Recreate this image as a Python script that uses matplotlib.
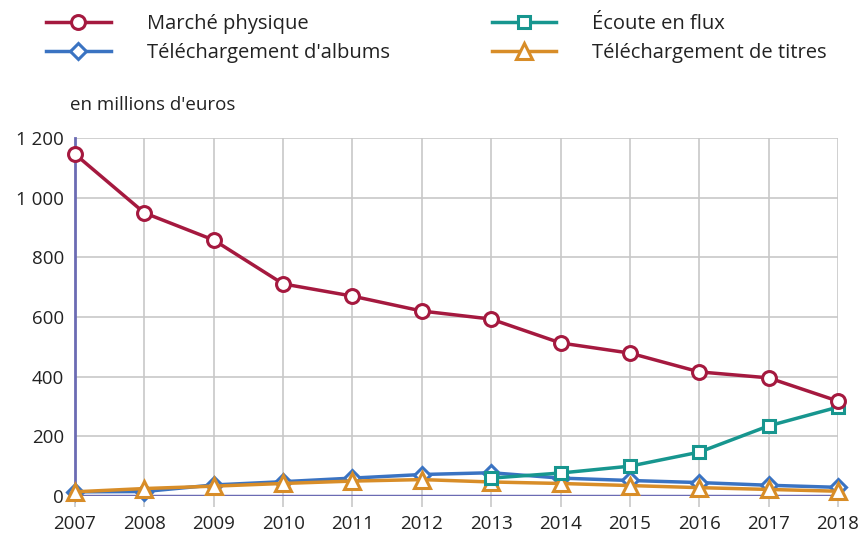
import numpy as np
import matplotlib
matplotlib.use("Agg")
import matplotlib.pyplot as plt

plt.rcParams['font.family'] = ['Open Sans', 'DejaVu Sans']

# data, in millions of euros
years = [2007, 2008, 2009, 2010, 2011, 2012, 2013, 2014, 2015, 2016, 2017, 2018]
physique = [1146, 949, 858, 711, 670, 620, 593, 513, 479, 416, 396, 318]
flux = [np.nan, np.nan, np.nan, np.nan, np.nan, np.nan, 60, 77, 100, 147, 235, 298]
albums = [14, 15, 37, 48, 60, 72, 78, 60, 52, 45, 36, 29]
titres = [14, 25, 33, 42, 50, 55, 47, 42, 35, 28, 22, 16]
yticks = [0, 200, 400, 600, 800, 1000, 1200]
ytick_labels = ['0', '200', '400', '600', '800', '1 000', '1 200']

red = '#a5193f'
teal = '#17968f'
blue = '#3a73c2'
orange = '#d88d28'
axis_col = '#6b6bb3'

fig = plt.figure(figsize=(8.63, 5.39), dpi=100)
ax = fig.add_axes([75/863, 1-496/539, (838-75)/863, (496-138)/539])

common = dict(lw=2.5, markerfacecolor='white', markeredgewidth=2.2, clip_on=False)
l1, = ax.plot(years, physique, color=red, marker='o', ms=10, zorder=6, label='Marché physique', **common)
l2, = ax.plot(years, albums, color=blue, marker='D', ms=8, zorder=4, label="Téléchargement d'albums", **common)
l4, = ax.plot(years, titres, color=orange, marker='^', ms=11, zorder=5, label='Téléchargement de titres', **common)
l3, = ax.plot(years, flux, color=teal, marker='s', ms=9, zorder=5, label='Écoute en flux', **common)

ax.set_xlim(2007, 2018)
ax.set_ylim(0, 1200)
ax.set_xticks(years)
ax.set_xticklabels([str(y) for y in years])
ax.set_yticks(yticks)
ax.set_yticklabels(ytick_labels)
ax.grid(True, color='#c8c8c8', lw=1.2)
ax.set_axisbelow(True)
for s in ['top', 'right', 'bottom']:
    ax.spines[s].set_visible(False)
ax.spines['left'].set_color(axis_col)
ax.spines['left'].set_linewidth(2)
ax.axhline(0, color=axis_col, lw=2.5, zorder=3)
ax.tick_params(axis='x', length=8, color='#c8c8c8', width=1.2, labelsize=13.5, pad=6, labelcolor='#222222')
ax.tick_params(axis='y', length=0, labelsize=13.5, pad=8, labelcolor='#222222')

fig.text(70/863, 1-105/539, "en millions d'euros", fontsize=13.5, va='center', ha='left', color='#222222')

fig.legend(handles=[l1, l2, l3, l4], ncol=2, loc='upper left',
           bbox_to_anchor=(28/863, 1.0 + 4/539), frameon=False, fontsize=14.5,
           handlelength=3.2, handletextpad=1.8, columnspacing=5.05,
           labelspacing=0.45, labelcolor='#222222')

plt.savefig('out.png', dpi=100)
